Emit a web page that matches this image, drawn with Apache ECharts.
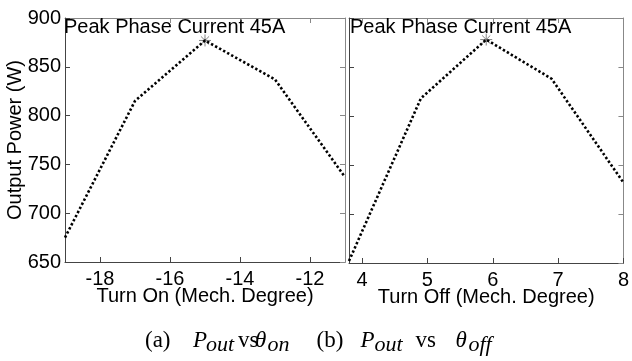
<!DOCTYPE html>
<html><head><meta charset="utf-8">
<script src="https://cdn.jsdelivr.net/npm/echarts@6/dist/echarts.min.js"></script>
<style>html,body{margin:0;padding:0;background:#fff}#c{width:632px;height:361px}</style>
</head><body><div id="c"></div>
<script>
// Data
const onAngle = [-19, -17, -15, -13, -11];
const onPower = [675, 815, 877, 837, 737];
const offAngle = [3.8, 4.9, 5.9, 6.9, 8];
const offPower = [652, 818, 878, 838, 732];
const peakIndexOn = 2;
const peakIndexOff = 2;
const onTicks = [-18, -16, -14, -12];
const offTicks = [4, 5, 6, 7, 8];
const yTicks = [650, 700, 750, 800, 850, 900];
const panelTitle = 'Peak Phase Current 45A';
const yName = 'Output Power (W)';
const xNameOn = 'Turn On (Mech. Degree)';
const xNameOff = 'Turn Off (Mech. Degree)';

const FONT = 'Liberation Sans, Arial, sans-serif';
const SERIF = 'Liberation Serif, Times New Roman, serif';
const FS = 20;
const chart = echarts.init(document.getElementById('c'), null, {renderer: 'canvas'});

function xAxes(gi, min, max, ticks, name) {
  return [{
    type: 'value', gridIndex: gi, min: min, max: max, position: 'bottom',
    name: name, nameLocation: 'middle', nameGap: 24, nameMoveOverlap: false,
    nameTextStyle: {fontFamily: FONT, fontSize: FS, color: '#000'},
    axisLine: {show: true, lineStyle: {color: '#444', width: 1}},
    axisTick: {show: true, inside: true, length: 5, customValues: ticks, lineStyle: {color: '#444'}},
    axisLabel: {show: true, customValues: ticks, margin: 7, fontFamily: FONT, fontSize: FS, color: '#000'},
    splitLine: {show: false}
  }, {
    type: 'value', gridIndex: gi, min: min, max: max, position: 'top',
    axisLine: {show: true, lineStyle: {color: '#888', width: 1}},
    axisTick: {show: true, inside: true, length: 5, customValues: ticks, lineStyle: {color: '#888'}},
    axisLabel: {show: false}, splitLine: {show: false}
  }];
}
function yAxes(gi, showLabels) {
  return [{
    type: 'value', gridIndex: gi, min: 650, max: 900, interval: 50, position: 'left',
    name: showLabels ? yName : '', nameLocation: 'middle', nameGap: 40, nameMoveOverlap: false,
    nameTextStyle: {fontFamily: FONT, fontSize: FS, color: '#000'},
    axisLine: {show: true, lineStyle: {color: '#444', width: 1}},
    axisTick: {show: true, inside: true, length: 5, lineStyle: {color: '#444'}},
    axisLabel: {show: showLabels, margin: 4, fontFamily: FONT, fontSize: FS, color: '#000'},
    splitLine: {show: false}
  }, {
    type: 'value', gridIndex: gi, min: 650, max: 900, interval: 50, position: 'right',
    axisLine: {show: true, lineStyle: {color: '#888', width: 1}},
    axisTick: {show: true, inside: true, length: 5, lineStyle: {color: '#888'}},
    axisLabel: {show: false}, splitLine: {show: false}
  }];
}

const lineStyle = {color: '#000', width: 2.6, type: [2.4, 2.2], cap: 'butt'};
const star = 'path://M5,0 L5,10 M0,5 L10,5 M1.6,1.6 L8.4,8.4 M1.6,8.4 L8.4,1.6';

const base = {fontFamily: SERIF, fontWeight: 'normal', fontSize: 23, color: '#000', verticalAlign: 'top', lineHeight: 28, align: 'left'};
const ital = Object.assign({}, base, {fontStyle: 'italic'});
const sub = Object.assign({}, base, {fontStyle: 'italic', fontSize: 22, padding: [5, 0, 0, 0]});
const w = (o, width) => Object.assign({}, o, {width: width});

chart.setOption({
  animation: false,
  backgroundColor: '#fff',
  title: [
    {text: panelTitle, left: 64, top: 17, padding: 0, textStyle: {fontFamily: FONT, fontSize: FS, fontWeight: 'normal', color: '#000'}},
    {text: panelTitle, left: 350, top: 17, padding: 0, textStyle: {fontFamily: FONT, fontSize: FS, fontWeight: 'normal', color: '#000'}},
    {text: '{a|(a)}{p1|P}{o1|out}{v1|vs}{t1|θ}{on|on}{b|(b)}{p2|P}{o2|out}{v2|vs}{t2|θ}{off|off}',
     left: 145, top: 329, padding: 0,
     textStyle: {fontWeight: 'normal', rich: {
       a: w(base, 48), p1: w(ital, 13), o1: w(sub, 32), v1: w(base, 17), t1: w(ital, 12.5), on: w(sub, 49),
       b: w(base, 44), p2: w(ital, 14), o2: w(sub, 41), v2: w(base, 40), t2: w(ital, 13), off: w(sub, 36)
     }}}
  ],
  grid: [
    {left: 65, top: 18, width: 280, height: 244},
    {left: 349, top: 18, width: 279, height: 245}
  ],
  xAxis: [].concat(xAxes(0, -19, -11, onTicks, xNameOn), xAxes(1, 3.8, 8, offTicks, xNameOff)),
  yAxis: [].concat(yAxes(0, true), yAxes(1, false)),
  series: [
    {type: 'line', xAxisIndex: 0, yAxisIndex: 0, data: onAngle.map((x, i) => [x, onPower[i]]),
     showSymbol: false, symbol: 'none', lineStyle: lineStyle, clip: true},
    {type: 'line', xAxisIndex: 2, yAxisIndex: 2, data: offAngle.map((x, i) => [x, offPower[i]]),
     showSymbol: false, symbol: 'none', lineStyle: lineStyle, clip: true},
    {type: 'scatter', xAxisIndex: 0, yAxisIndex: 0, data: [[onAngle[peakIndexOn], onPower[peakIndexOn]]],
     symbol: star, symbolSize: 12, itemStyle: {color: 'none', borderColor: '#666', borderWidth: 1}},
    {type: 'scatter', xAxisIndex: 2, yAxisIndex: 2, data: [[offAngle[peakIndexOff], offPower[peakIndexOff]]],
     symbol: star, symbolSize: 12, itemStyle: {color: 'none', borderColor: '#666', borderWidth: 1}}
  ]
});
</script></body></html>
